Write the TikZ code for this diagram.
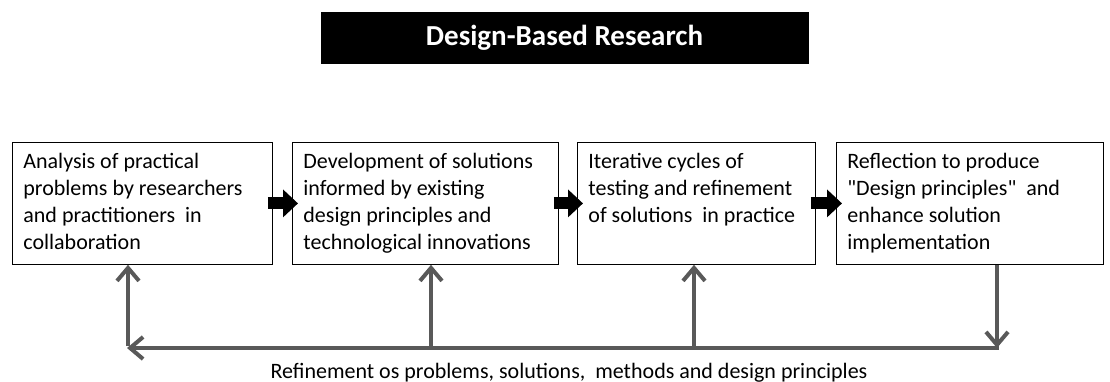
\documentclass[tikz,border=0pt]{standalone}
\usepackage{fontspec}
\setmainfont{Carlito}
\newfontfamily\plainquotes{Carlito}
\usetikzlibrary{arrows.meta}
\definecolor{fbgray}{HTML}{595959}
\newcommand{\stagetext}[2]{\parbox[c][100pt][t]{#1}{\raggedright\fontsize{22pt}{27pt}\selectfont #2}}
\newcommand{\dq}{{\plainquotes\symbol{34}}}
\tikzset{
  stagebox/.style={draw=black, line width=0.8pt, fill=white, anchor=north west,
    inner xsep=11pt, inner ysep=11pt},
  titlebox/.style={fill=black, draw=black, text=white, font=\fontsize{29pt}{33pt}\selectfont\bfseries,
    minimum width=487pt, minimum height=51pt, inner sep=0pt},
  flow/.style={line width=12pt, -{Triangle[length=15pt,width=27pt]}},
  fb/.style={draw=fbgray, line width=4pt},
  fbtip/.style={fb, -{Straight Barb[length=13pt,width=22pt,line width=4pt]}},
}
\begin{document}
\begin{tikzpicture}[x=1pt,y=-1pt]
\useasboundingbox (0,0) rectangle (1110,382);

% title banner
\node[titlebox] (title) at (564.5,37.5) {Design-Based Research};

% the four stages
\node[stagebox] (b1) at (12,142) {\stagetext{238pt}{Analysis of practical\\ problems by researchers\\ and practitioners~ in\\ collaboration}};
\node[stagebox] (b2) at (292,142) {\stagetext{244pt}{Development of solutions\\ informed by existing\\ design principles and\\ technological innovations}};
\node[stagebox] (b3) at (577,142) {\stagetext{216pt}{Iterative cycles of\\ testing and refinement\\ of solutions~ in practice}};
\node[stagebox] (b4) at (836,142) {\stagetext{245pt}{Reflection to produce\\ \dq Design principles\dq~ and\\ enhance solution\\ implementation}};

% forward flow
\draw[flow] ([xshift=-5pt]b1.east) -- ([xshift=6pt]b2.west);
\draw[flow] ([xshift=-5pt]b2.east) -- ([xshift=6pt]b3.west);
\draw[flow] ([xshift=-5pt]b3.east) -- ([xshift=6pt]b4.west);

% feedback loop
\coordinate (c1) at (128,348);
\coordinate (c2) at (431,348);
\coordinate (c3) at (694,348);
\coordinate (c4) at (997,348);
\draw[fbtip] (b4.south -| c4) -- (c4);
\draw[fbtip] ([xshift=2pt]c4) -- ([xshift=-1pt]c1);
\draw[fbtip] ([yshift=2pt]c1) -- (b1.south -| c1);
\draw[fbtip] (c2) -- (b2.south -| c2);
\draw[fbtip] (c3) -- (b3.south -| c3);

\node[anchor=base, font=\fontsize{22pt}{27pt}\selectfont, inner sep=0pt] (lbl) at (569,378)
  {Refinement os problems, solutions, ~methods and design principles};
\end{tikzpicture}
\end{document}
